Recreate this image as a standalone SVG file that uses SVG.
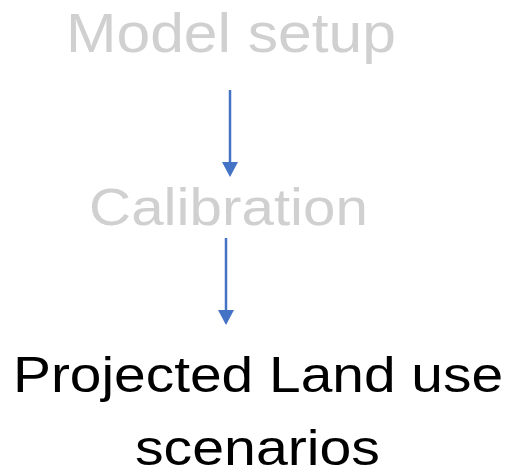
<svg xmlns="http://www.w3.org/2000/svg" width="513" height="476" viewBox="0 0 513 476">
  <style>
    .t { font-family: "Liberation Sans", Arial, sans-serif; }
    .grey { fill: #D0D0D0; }
    .black { fill: #000000; }
    .conn { stroke: #4472C4; stroke-width: 2.5; fill: none; }
  </style>
  <defs>
    <marker id="arrow" markerUnits="userSpaceOnUse" markerWidth="16" markerHeight="16" viewBox="0 0 16 16" refX="0" refY="8" orient="auto">
      <path d="M0,0 L15,8 L0,16 Z" fill="#4472C4"/>
    </marker>
  </defs>
  <rect width="513" height="476" fill="#FFFFFF"/>
  <g id="node-model-setup">
    <text class="t grey" x="66" y="52" font-size="56" textLength="330" lengthAdjust="spacingAndGlyphs">Model setup</text>
  </g>
  <g id="node-calibration">
    <text class="t grey" x="89" y="225" font-size="52" textLength="279" lengthAdjust="spacingAndGlyphs">Calibration</text>
  </g>
  <g id="node-projected">
    <text class="t black" x="13" y="392" font-size="50" textLength="490" lengthAdjust="spacingAndGlyphs">Projected Land use</text>
    <text class="t black" x="135" y="465" font-size="50" textLength="245" lengthAdjust="spacingAndGlyphs">scenarios</text>
  </g>
  <g id="connectors">
    <line class="conn" x1="230" y1="90" x2="230" y2="162" marker-end="url(#arrow)"/>
    <line class="conn" x1="226" y1="238" x2="226" y2="310" marker-end="url(#arrow)"/>
  </g>
</svg>
